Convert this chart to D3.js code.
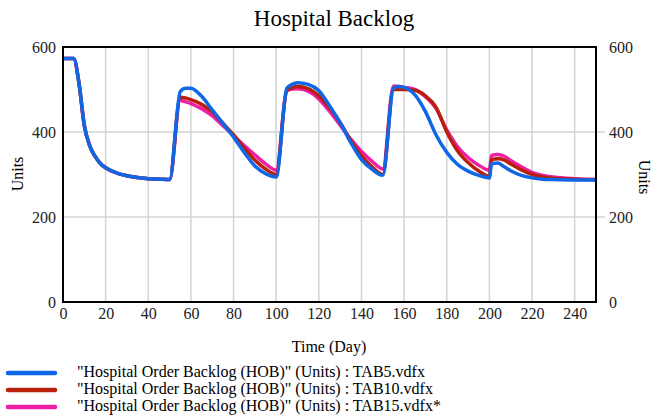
<!DOCTYPE html>
<html>
<head>
<meta charset="utf-8">
<script src="https://cdn.jsdelivr.net/npm/d3@7"></script>
<style>
  body { margin: 0; background: #fff; }
  svg { display: block; }
  svg text { font-family: "Liberation Serif", "Times New Roman", serif; }
</style>
</head>
<body>
<svg id="chart" width="652" height="415"></svg>
<script>
"use strict";

//data

const days = [
  0, 5, 7.5, 10, 12.5, 15, 17.5, 20, 25, 30, 35, 40, 45, 50,
  55, 57.5, 60, 65, 70, 75, 80, 85, 90, 95, 100,
  105, 107.5, 110, 115, 120, 125, 130, 135, 140, 145, 150,
  155, 157.5, 160, 165, 170, 175, 180, 185, 190, 195, 200,
  201, 204, 207, 210, 215, 220, 225, 230, 240, 250
];

const tab5 = [
  573, 573, 515, 415, 368, 343, 326, 316, 304, 297, 293, 290, 289, 288,
  495, 503, 503, 484, 452, 420, 388, 352, 320, 302, 294,
  503, 512, 516, 512, 497, 462, 422, 375, 335, 312, 298,
  503, 507, 505, 488, 448, 393, 352, 324, 308, 298, 292,
  325, 327, 318, 309, 298, 292, 289, 288, 287, 287
];

const tab10 = [
  573, 573, 515, 415, 368, 343, 326, 316, 304, 297, 293, 290, 289, 288,
  482, 480, 476, 465, 447, 421, 393, 362, 334, 313, 300,
  498, 504, 507, 502, 485, 457, 422, 380, 344, 318, 300,
  500, 500, 500, 498, 485, 458, 400, 356, 328, 308, 296,
  335, 337, 334, 325, 311, 300, 294, 291, 289, 288
];

const tab15 = [
  573, 573, 515, 415, 368, 343, 326, 316, 304, 297, 293, 290, 289, 288,
  474, 471, 467, 455, 438, 415, 392, 368, 346, 325, 310,
  497, 501, 502, 496, 478, 449, 416, 383, 354, 331, 313,
  508, 507, 505, 500, 483, 455, 405, 366, 340, 322, 310,
  345, 347, 343, 333, 318, 305, 298, 294, 290, 288
];

const seriesNames = [
  "\"Hospital Order Backlog (HOB)\" (Units) : TAB5.vdfx",
  "\"Hospital Order Backlog (HOB)\" (Units) : TAB10.vdfx",
  "\"Hospital Order Backlog (HOB)\" (Units) : TAB15.vdfx*"
];

const seriesColors = ["#0f67e6", "#b8200c", "#f01ea4"];

const xTicks = d3.range(0, 250, 20);
const yTicks = [0, 200, 400, 600];

//layout

const serif = "'Liberation Serif', 'Times New Roman', serif";
const box = { left: 63, right: 596, top: 47, bottom: 302 };

const svg = d3.select("#chart");

const x = d3.scaleLinear().domain([0, 250]).range([box.left, box.right]);
const y = d3.scaleLinear().domain([0, 600]).range([box.bottom, box.top]);

//title

svg.append("text")
  .attr("x", 334)
  .attr("y", 26)
  .attr("text-anchor", "middle")
  .style("font-family", serif)
  .style("font-size", "23px")
  .text("Hospital Backlog");

//grid

const grid = svg.append("g").attr("stroke", "#d4d4d4").attr("stroke-width", 1.5);

grid.selectAll(".vx")
  .data(xTicks.filter((d) => d > 0))
  .enter()
  .append("line")
  .attr("x1", (d) => x(d))
  .attr("x2", (d) => x(d))
  .attr("y1", box.top)
  .attr("y2", box.bottom);

grid.selectAll(".hy")
  .data(yTicks.filter((d) => d > 0 && d < 600))
  .enter()
  .append("line")
  .attr("x1", box.left)
  .attr("x2", box.right + 9)
  .attr("y1", (d) => y(d))
  .attr("y2", (d) => y(d));

//axes

const axisFont = (g) => {
  g.attr("font-family", null).attr("font-size", null);
  g.select(".domain").remove();
  g.selectAll(".tick line").remove();
  g.selectAll(".tick text")
    .style("font-family", serif)
    .style("font-size", "16px")
    .attr("fill", "#222");
};

svg.append("g")
  .attr("transform", `translate(0, ${box.bottom})`)
  .call(d3.axisBottom(x).tickValues(xTicks).tickSize(0).tickPadding(6))
  .call(axisFont);

svg.append("g")
  .attr("transform", `translate(${box.left}, 0)`)
  .call(d3.axisLeft(y).tickValues(yTicks).tickSize(0).tickPadding(7))
  .call(axisFont);

svg.append("g")
  .attr("transform", `translate(${box.right}, 0)`)
  .call(d3.axisRight(y).tickValues(yTicks).tickSize(0).tickPadding(13))
  .call(axisFont);

//axis labels

const label = (transform, str) => {
  svg.append("text")
    .attr("transform", transform)
    .attr("text-anchor", "middle")
    .style("font-family", serif)
    .style("font-size", "16px")
    .text(str);
};

label("translate(23, 174) rotate(-90)", "Units");
label("translate(639, 177) rotate(90)", "Units");
label("translate(329, 352)", "Time (Day)");

//lines

const line = d3.line()
  .x((d) => x(d[0]))
  .y((d) => y(d[1]))
  .curve(d3.curveMonotoneX);

const series = [tab5, tab10, tab15];

svg.append("g")
  .selectAll("path")
  .data(series.slice().reverse())
  .enter()
  .append("path")
  .attr("fill", "none")
  .attr("stroke", (d, i) => seriesColors[series.length - 1 - i])
  .attr("stroke-width", 3.5)
  .attr("stroke-linejoin", "round")
  .attr("d", (vals) => line(days.map((t, i) => [t, vals[i]])));

//frame

svg.append("rect")
  .attr("x", box.left)
  .attr("y", box.top)
  .attr("width", box.right - box.left)
  .attr("height", box.bottom - box.top)
  .attr("fill", "none")
  .attr("stroke", "#000")
  .attr("stroke-width", 2);

//legend

const legend = svg.append("g")
  .selectAll("g")
  .data(seriesNames)
  .enter()
  .append("g")
  .attr("transform", (d, i) => `translate(0, ${373 + i * 17})`);

legend.append("line")
  .attr("x1", 8)
  .attr("x2", 55)
  .attr("stroke", (d, i) => seriesColors[i])
  .attr("stroke-width", 4.5)
  .attr("stroke-linecap", "round");

legend.append("text")
  .attr("x", 77)
  .attr("y", 4)
  .style("font-family", serif)
  .style("font-size", "16px")
  .text((d) => d);
</script>
</body>
</html>
